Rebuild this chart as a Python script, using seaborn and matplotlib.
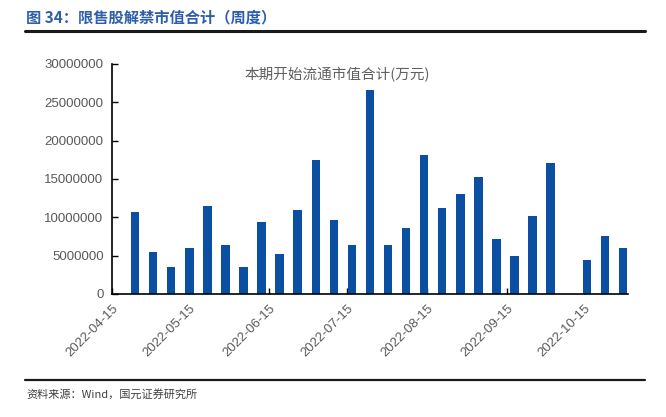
import matplotlib
matplotlib.use("Agg")
import matplotlib.pyplot as plt
import matplotlib.dates as mdates
import seaborn as sns
import pandas as pd
import numpy as np

# Data
week_dates = pd.date_range("2022-04-24", periods=28, freq="7D")
values = [10.7, 5.5, 3.55, 6.05, 11.45, 6.4, 3.5, 9.4, 5.25, 11.0, 17.4, 9.7,
          6.35, 26.6, 6.35, 8.6, 18.05, 11.25, 13.0, 15.25, 7.2, 4.95, 10.15, 17.1,
          0.0, 4.4, 7.55, 6.0]
values = [v * 1e6 for v in values]
tick_dates = ["2022-04-15", "2022-05-15", "2022-06-15", "2022-07-15",
              "2022-08-15", "2022-09-15", "2022-10-15"]
y_ticks = [0, 5000000, 10000000, 15000000, 20000000, 25000000, 30000000]

sns.set_theme(style="white")
plt.rcParams['font.family'] = ['Liberation Sans', 'Noto Sans CJK SC', 'DejaVu Sans']

fig = plt.figure(figsize=(6.66, 4.17), dpi=100)
ax = fig.add_axes([0.168, 0.295, 0.775, 0.552])

df = pd.DataFrame({"date": mdates.date2num(week_dates), "value": values})
sns.barplot(data=df, x="date", y="value", native_scale=True, width=0.47,
            color="#0b4fa2", saturation=1, ax=ax, edgecolor="none")

ax.set_xlim(mdates.date2num(pd.Timestamp("2022-04-15")), mdates.date2num(pd.Timestamp("2022-11-01")))
ax.set_ylim(0, 30000000)
ax.set_yticks(y_ticks)
ax.set_yticklabels([str(v) for v in y_ticks], color="#595959", fontsize=9.5)
ax.set_xticks(mdates.date2num(pd.to_datetime(tick_dates)))
ax.set_xticklabels(tick_dates, rotation=45, ha="right", rotation_mode="anchor",
                   color="#595959", fontsize=9.5)
ax.tick_params(axis="both", direction="in", length=4, width=1, color="black",
               left=True, bottom=True, pad=6)
ax.set_xlabel("")
ax.set_ylabel("")
for s in ["top", "right"]:
    ax.spines[s].set_visible(False)
for s in ["left", "bottom"]:
    ax.spines[s].set_color("black")
    ax.spines[s].set_linewidth(1.2)

fig.text(337/666, 1 - 75/417, "本期开始流通市值合计(万元)", ha="center", va="center",
         fontsize=10.5, color="#606060", family=["Noto Sans CJK SC", "DejaVu Sans"])

fig.text(26/666, 1 - 17/417, "图 34：限售股解禁市值合计（周度）", ha="left", va="center",
         fontsize=11, fontweight="bold", color="#2f5fa8",
         family=["Noto Sans CJK SC", "DejaVu Sans"])
fig.add_artist(plt.Line2D([25/666, 645/666], [1 - 31/417, 1 - 31/417], color="#1a1a1a", lw=2.2))
fig.add_artist(plt.Line2D([25/666, 645/666], [1 - 380/417, 1 - 380/417], color="#1a1a1a", lw=1.6))
fig.text(26/666, 1 - 394/417, "资料来源：Wind，国元证券研究所", ha="left", va="center",
         fontsize=8, color="#404040", family=["Noto Sans CJK SC", "DejaVu Sans"])

fig.savefig("out.png", dpi=100)
